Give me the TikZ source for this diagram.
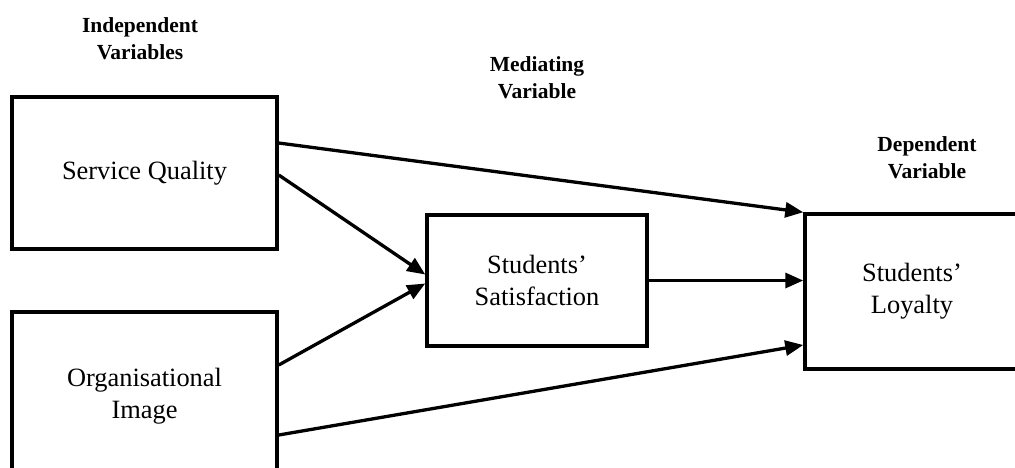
\documentclass[tikz,border=0pt]{standalone}
\usepackage{fontspec}
\setmainfont{Liberation Serif}
\usetikzlibrary{arrows.meta}
\begin{document}
\begin{tikzpicture}[x=1pt,y=-1pt,
  box/.style={draw, line width=3.5pt, inner sep=0pt, align=center, font=\fontsize{26.4}{32}\selectfont},
  lbl/.style={align=center, font=\fontsize{21.5}{26.5}\selectfont\bfseries},
  conn/.style={line width=3.3pt, -{Triangle[length=18pt,width=15pt]}}]
\clip (0,0) rectangle (1015,467);
\fill[white] (0,0) rectangle (1015,467);
\node[box, minimum width=265pt, minimum height=152pt] (sq) at (144.5,173) {Service Quality};
\node[box, minimum width=265pt, minimum height=168pt] (oi) at (144.5,396) {Organisational\\Image};
\node[box, minimum width=220pt, minimum height=131pt] (sat) at (537,280.5) {Students'\\Satisfaction};
\node[box, minimum width=214pt, minimum height=155pt] (loy) at (912,291.5) {Students'\\Loyalty};
\node[lbl] (liv) at (140,38.5) {Independent\\Variables};
\node[lbl] (lmv) at (537,77.5) {Mediating\\Variable};
\node[lbl] (ldv) at (927,157.5) {Dependent\\Variable};
\draw[conn] ([yshift=30pt]sq.east) -- (loy.north west);
\draw[conn] ([yshift=-2pt]sq.east) -- ([yshift=6pt]sat.west);
\draw[conn] ([yshift=31pt]oi.east) -- ([yshift=-3pt]sat.west);
\draw[conn] ([yshift=-39pt]oi.east) -- ([yshift=-53.5pt]loy.west);
\draw[conn] (sat.east) -- (sat.east -| loy.west);
\end{tikzpicture}
\end{document}
